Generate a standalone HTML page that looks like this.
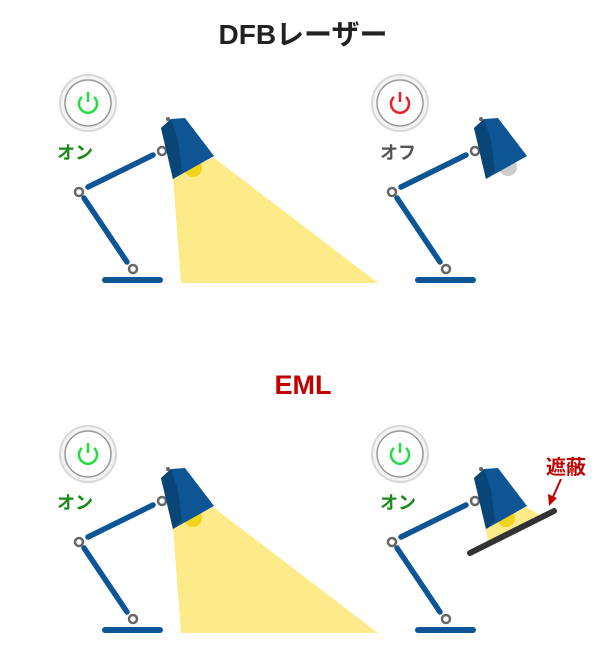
<!DOCTYPE html>
<html><head><meta charset="utf-8"><style>
html,body{margin:0;padding:0;background:#fff;width:606px;height:652px;overflow:hidden}
svg{display:block}
text{font-family:"Liberation Sans","Noto Sans CJK JP",sans-serif;font-weight:bold}
</style></head><body>
<svg width="606" height="652" viewBox="0 0 606 652" xmlns="http://www.w3.org/2000/svg">
<defs>
<g id="arm">
  <line x1="105" y1="280" x2="160" y2="280" stroke="#0d5594" stroke-width="6" stroke-linecap="round"/>
  <line x1="127" y1="262" x2="84" y2="198" stroke="#0d5594" stroke-width="5.5" stroke-linecap="round"/>
  <line x1="88" y1="187" x2="153" y2="155" stroke="#0d5594" stroke-width="5.5" stroke-linecap="round"/>
  <circle cx="133" cy="269" r="4" fill="#fff" stroke="#666" stroke-width="2.5"/>
  <circle cx="79" cy="192" r="4" fill="#fff" stroke="#666" stroke-width="2.5"/>
  <circle cx="162" cy="151" r="4" fill="#fff" stroke="#666" stroke-width="2.5"/>
  <circle cx="168" cy="119" r="2" fill="#666"/>
</g>
<g id="shade">
  <polygon points="161,128 171,119 185,118 214,156 173,179" fill="#0d5594"/>
  <polygon points="161,128 171,119 178,140 182,171 173,179" fill="#0a4577"/>
</g>
<g id="btn">
  <circle cx="0" cy="0" r="28" fill="#f4f4f4" stroke="#d8d8d8" stroke-width="2"/>
  <circle cx="0" cy="0" r="23" fill="#fff" stroke="#999" stroke-width="1.5"/>
</g>
</defs>

<text x="303" y="44" font-size="28" text-anchor="middle" fill="#222">DFBレーザー</text>
<text x="303" y="394" font-size="27" text-anchor="middle" fill="#c00000">EML</text>

<!-- Top left ON -->
<polygon points="173,178 213,157 378,283 181,283" fill="#fdeb8a"/>
<circle cx="193" cy="168" r="9" fill="#f3d31c"/>
<use href="#arm"/><use href="#shade"/>
<g transform="translate(88,103)"><use href="#btn"/>
<path d="M-6,-6 A9,9 0 1,0 6,-6" fill="none" stroke="#22dd44" stroke-width="2.5"/><line x1="0" y1="-11" x2="0" y2="-1" stroke="#22dd44" stroke-width="2.5"/></g>
<text x="57" y="159" font-size="18" fill="#1a8a1a">オン</text>

<!-- Top right OFF -->
<g transform="translate(313,0)">
<circle cx="195" cy="167" r="9" fill="#ccc"/>
<use href="#arm"/><use href="#shade"/>
<g transform="translate(87,103)"><use href="#btn"/>
<path d="M-6,-6 A9,9 0 1,0 6,-6" fill="none" stroke="#ee1c24" stroke-width="2.5"/><line x1="0" y1="-11" x2="0" y2="-1" stroke="#ee1c24" stroke-width="2.5"/></g>
<text x="67" y="159" font-size="18" fill="#555" font-weight="normal">オフ</text>
</g>

<!-- Bottom left ON -->
<g transform="translate(0,350)">
<polygon points="173,178 213,157 378,283 181,283" fill="#fdeb8a"/>
<circle cx="193" cy="168" r="9" fill="#f3d31c"/>
<use href="#arm"/><use href="#shade"/>
<g transform="translate(88,104)"><use href="#btn"/>
<path d="M-6,-6 A9,9 0 1,0 6,-6" fill="none" stroke="#22dd44" stroke-width="2.5"/><line x1="0" y1="-11" x2="0" y2="-1" stroke="#22dd44" stroke-width="2.5"/></g>
<text x="57" y="159" font-size="18" fill="#1a8a1a">オン</text>
</g>

<!-- Bottom right shielded -->
<g transform="translate(313,350)">
<polygon points="173,178 213,157 232,168 175,196" fill="#fdeb8a"/>
<circle cx="193" cy="168" r="9" fill="#f3d31c"/>
<use href="#arm"/><use href="#shade"/>
<g transform="translate(87,104)"><use href="#btn"/>
<path d="M-6,-6 A9,9 0 1,0 6,-6" fill="none" stroke="#22dd44" stroke-width="2.5"/><line x1="0" y1="-11" x2="0" y2="-1" stroke="#22dd44" stroke-width="2.5"/></g>
<text x="67" y="159" font-size="18" fill="#1a8a1a">オン</text>
</g>
<line x1="470" y1="553" x2="554" y2="511" stroke="#333" stroke-width="6" stroke-linecap="round"/>
<line x1="561" y1="479" x2="553" y2="497" stroke="#c00000" stroke-width="2"/>
<polygon points="548,494 557,498 549,506" fill="#c00000"/>
<text x="546" y="474" font-size="20" fill="#c00000" font-weight="normal">遮蔽</text>
</svg>
</body></html>
